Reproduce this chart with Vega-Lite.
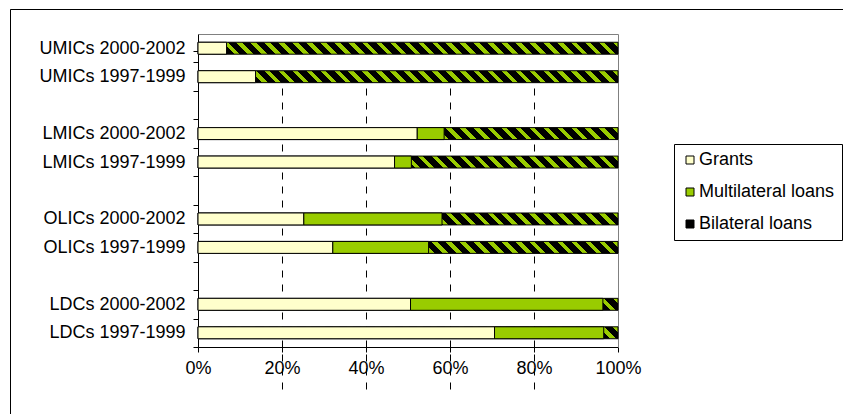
{
  "$schema": "https://vega.github.io/schema/vega-lite/v6.json",
  "width": 833,
  "height": 405,
  "autosize": {"type": "none"},
  "padding": {"left": 10, "top": 9, "right": 0, "bottom": 0},
  "background": "white",
  "view": {"stroke": "black", "strokeWidth": 1, "strokeDash": [833, 1238, 405, 10]},
  "data": {
    "values": [
      {"group": "UMICs 2000-2002", "type": "Grants", "value": 6.8},
      {"group": "UMICs 2000-2002", "type": "Bilateral loans", "value": 93.2},
      {"group": "UMICs 1997-1999", "type": "Grants", "value": 13.7},
      {"group": "UMICs 1997-1999", "type": "Bilateral loans", "value": 86.3},
      {"group": "LMICs 2000-2002", "type": "Grants", "value": 52.2},
      {"group": "LMICs 2000-2002", "type": "Multilateral loans", "value": 6.4},
      {"group": "LMICs 2000-2002", "type": "Bilateral loans", "value": 41.4},
      {"group": "LMICs 1997-1999", "type": "Grants", "value": 46.8},
      {"group": "LMICs 1997-1999", "type": "Multilateral loans", "value": 4.0},
      {"group": "LMICs 1997-1999", "type": "Bilateral loans", "value": 49.2},
      {"group": "OLICs 2000-2002", "type": "Grants", "value": 25.2},
      {"group": "OLICs 2000-2002", "type": "Multilateral loans", "value": 32.9},
      {"group": "OLICs 2000-2002", "type": "Bilateral loans", "value": 41.9},
      {"group": "OLICs 1997-1999", "type": "Grants", "value": 32.1},
      {"group": "OLICs 1997-1999", "type": "Multilateral loans", "value": 22.8},
      {"group": "OLICs 1997-1999", "type": "Bilateral loans", "value": 45.1},
      {"group": "LDCs 2000-2002", "type": "Grants", "value": 50.6},
      {"group": "LDCs 2000-2002", "type": "Multilateral loans", "value": 45.8},
      {"group": "LDCs 2000-2002", "type": "Bilateral loans", "value": 3.6},
      {"group": "LDCs 1997-1999", "type": "Grants", "value": 70.6},
      {"group": "LDCs 1997-1999", "type": "Multilateral loans", "value": 26.0},
      {"group": "LDCs 1997-1999", "type": "Bilateral loans", "value": 3.4}
    ]
  },
  "layer": [
    {
      "mark": {
        "type": "bar",
        "stroke": "black",
        "strokeWidth": 1,
        "fill": {
          "gradient": "linear",
          "x1": 0, "y1": 1, "x2": 1.02762, "y2": 0.97076,
          "stops": [
            {"offset": 0, "color": "#000000"}, {"offset": 0.01935, "color": "#000000"}, {"offset": 0.01935, "color": "#99CC00"}, {"offset": 0.03226, "color": "#99CC00"},
            {"offset": 0.03226, "color": "#000000"}, {"offset": 0.05161, "color": "#000000"}, {"offset": 0.05161, "color": "#99CC00"}, {"offset": 0.06452, "color": "#99CC00"},
            {"offset": 0.06452, "color": "#000000"}, {"offset": 0.08387, "color": "#000000"}, {"offset": 0.08387, "color": "#99CC00"}, {"offset": 0.09677, "color": "#99CC00"},
            {"offset": 0.09677, "color": "#000000"}, {"offset": 0.11613, "color": "#000000"}, {"offset": 0.11613, "color": "#99CC00"}, {"offset": 0.12903, "color": "#99CC00"},
            {"offset": 0.12903, "color": "#000000"}, {"offset": 0.14839, "color": "#000000"}, {"offset": 0.14839, "color": "#99CC00"}, {"offset": 0.16129, "color": "#99CC00"},
            {"offset": 0.16129, "color": "#000000"}, {"offset": 0.18065, "color": "#000000"}, {"offset": 0.18065, "color": "#99CC00"}, {"offset": 0.19355, "color": "#99CC00"},
            {"offset": 0.19355, "color": "#000000"}, {"offset": 0.2129, "color": "#000000"}, {"offset": 0.2129, "color": "#99CC00"}, {"offset": 0.22581, "color": "#99CC00"},
            {"offset": 0.22581, "color": "#000000"}, {"offset": 0.24516, "color": "#000000"}, {"offset": 0.24516, "color": "#99CC00"}, {"offset": 0.25806, "color": "#99CC00"},
            {"offset": 0.25806, "color": "#000000"}, {"offset": 0.27742, "color": "#000000"}, {"offset": 0.27742, "color": "#99CC00"}, {"offset": 0.29032, "color": "#99CC00"},
            {"offset": 0.29032, "color": "#000000"}, {"offset": 0.30968, "color": "#000000"}, {"offset": 0.30968, "color": "#99CC00"}, {"offset": 0.32258, "color": "#99CC00"},
            {"offset": 0.32258, "color": "#000000"}, {"offset": 0.34194, "color": "#000000"}, {"offset": 0.34194, "color": "#99CC00"}, {"offset": 0.35484, "color": "#99CC00"},
            {"offset": 0.35484, "color": "#000000"}, {"offset": 0.37419, "color": "#000000"}, {"offset": 0.37419, "color": "#99CC00"}, {"offset": 0.3871, "color": "#99CC00"},
            {"offset": 0.3871, "color": "#000000"}, {"offset": 0.40645, "color": "#000000"}, {"offset": 0.40645, "color": "#99CC00"}, {"offset": 0.41935, "color": "#99CC00"},
            {"offset": 0.41935, "color": "#000000"}, {"offset": 0.43871, "color": "#000000"}, {"offset": 0.43871, "color": "#99CC00"}, {"offset": 0.45161, "color": "#99CC00"},
            {"offset": 0.45161, "color": "#000000"}, {"offset": 0.47097, "color": "#000000"}, {"offset": 0.47097, "color": "#99CC00"}, {"offset": 0.48387, "color": "#99CC00"},
            {"offset": 0.48387, "color": "#000000"}, {"offset": 0.50323, "color": "#000000"}, {"offset": 0.50323, "color": "#99CC00"}, {"offset": 0.51613, "color": "#99CC00"},
            {"offset": 0.51613, "color": "#000000"}, {"offset": 0.53548, "color": "#000000"}, {"offset": 0.53548, "color": "#99CC00"}, {"offset": 0.54839, "color": "#99CC00"},
            {"offset": 0.54839, "color": "#000000"}, {"offset": 0.56774, "color": "#000000"}, {"offset": 0.56774, "color": "#99CC00"}, {"offset": 0.58065, "color": "#99CC00"},
            {"offset": 0.58065, "color": "#000000"}, {"offset": 0.6, "color": "#000000"}, {"offset": 0.6, "color": "#99CC00"}, {"offset": 0.6129, "color": "#99CC00"},
            {"offset": 0.6129, "color": "#000000"}, {"offset": 0.63226, "color": "#000000"}, {"offset": 0.63226, "color": "#99CC00"}, {"offset": 0.64516, "color": "#99CC00"},
            {"offset": 0.64516, "color": "#000000"}, {"offset": 0.66452, "color": "#000000"}, {"offset": 0.66452, "color": "#99CC00"}, {"offset": 0.67742, "color": "#99CC00"},
            {"offset": 0.67742, "color": "#000000"}, {"offset": 0.69677, "color": "#000000"}, {"offset": 0.69677, "color": "#99CC00"}, {"offset": 0.70968, "color": "#99CC00"},
            {"offset": 0.70968, "color": "#000000"}, {"offset": 0.72903, "color": "#000000"}, {"offset": 0.72903, "color": "#99CC00"}, {"offset": 0.74194, "color": "#99CC00"},
            {"offset": 0.74194, "color": "#000000"}, {"offset": 0.76129, "color": "#000000"}, {"offset": 0.76129, "color": "#99CC00"}, {"offset": 0.77419, "color": "#99CC00"},
            {"offset": 0.77419, "color": "#000000"}, {"offset": 0.79355, "color": "#000000"}, {"offset": 0.79355, "color": "#99CC00"}, {"offset": 0.80645, "color": "#99CC00"},
            {"offset": 0.80645, "color": "#000000"}, {"offset": 0.82581, "color": "#000000"}, {"offset": 0.82581, "color": "#99CC00"}, {"offset": 0.83871, "color": "#99CC00"},
            {"offset": 0.83871, "color": "#000000"}, {"offset": 0.85806, "color": "#000000"}, {"offset": 0.85806, "color": "#99CC00"}, {"offset": 0.87097, "color": "#99CC00"},
            {"offset": 0.87097, "color": "#000000"}, {"offset": 0.89032, "color": "#000000"}, {"offset": 0.89032, "color": "#99CC00"}, {"offset": 0.90323, "color": "#99CC00"},
            {"offset": 0.90323, "color": "#000000"}, {"offset": 0.92258, "color": "#000000"}, {"offset": 0.92258, "color": "#99CC00"}, {"offset": 0.93548, "color": "#99CC00"},
            {"offset": 0.93548, "color": "#000000"}, {"offset": 0.95484, "color": "#000000"}, {"offset": 0.95484, "color": "#99CC00"}, {"offset": 0.96774, "color": "#99CC00"},
            {"offset": 0.96774, "color": "#000000"}, {"offset": 0.9871, "color": "#000000"}, {"offset": 0.9871, "color": "#99CC00"}, {"offset": 1, "color": "#99CC00"}
          ]
        }
      },
      "encoding": {
        "y": {
          "field": "group",
          "type": "nominal",
          "scale": {
            "domain": ["UMICs 2000-2002", "UMICs 1997-1999", " ", "LMICs 2000-2002", "LMICs 1997-1999", "  ", "OLICs 2000-2002", "OLICs 1997-1999", "   ", "LDCs 2000-2002", "LDCs 1997-1999"],
            "range": [25, 338],
            "paddingInner": 0.58,
            "paddingOuter": 0.29
          },
          "axis": {
            "orient": "left",
            "offset": -188,
            "title": null,
            "domain": true,
            "ticks": true,
            "bandPosition": 1,
            "tickOffset": 8.25,
            "tickExtra": true,
            "tickSize": 5,
            "labelOffset": -8.25,
            "labelPadding": 8,
            "labelLimit": 300,
            "grid": false
          }
        },
        "x": {
          "aggregate": "sum",
          "field": "value",
          "type": "quantitative",
          "scale": {"domain": [0, 100], "range": [188, 608], "nice": false},
          "axis": {
            "orient": "bottom",
            "offset": -67,
            "title": null,
            "domain": true,
            "values": [0, 20, 40, 60, 80, 100],
            "labelExpr": "datum.value + '%'",
            "tickSize": 5,
            "labelPadding": 7,
            "labelFlush": false,
            "labelOverlap": false,
            "grid": true,
            "gridColor": "black",
            "gridDash": [7, 7],
            "gridOpacity": {"condition": {"test": "datum.value > 0 && datum.value < 100", "value": 1}, "value": 0}
          }
        }
      }
    },
    {
      "transform": [{"filter": "datum.type !== 'Bilateral loans'"}],
      "mark": {"type": "bar", "stroke": "black", "strokeWidth": 1},
      "encoding": {
        "y": {
          "field": "group",
          "type": "nominal",
          "axis": {"orient": "right", "offset": -225, "title": null, "ticks": false, "labels": false, "grid": false, "domain": true, "domainColor": "#808080"}
        },
        "x": {
          "field": "value",
          "type": "quantitative",
          "stack": "zero",
          "axis": {"orient": "top", "offset": -25, "title": null, "ticks": false, "labels": false, "grid": false, "domain": true, "domainColor": "#808080"}
        },
        "color": {
          "field": "type",
          "type": "nominal",
          "scale": {"domain": ["Grants", "Multilateral loans", "Bilateral loans"], "range": ["#FFFFCC", "#99CC00", "#000000"]},
          "legend": {
            "title": null,
            "orient": "none",
            "legendX": 664,
            "legendY": 135,
            "padding": 7,
            "strokeColor": "black",
            "fillColor": "white",
            "symbolType": "square",
            "symbolSize": 64,
            "symbolStrokeColor": "black",
            "symbolStrokeWidth": 1,
            "symbolOpacity": 1,
            "labelFontSize": 18,
            "labelOffset": 0,
            "labelColor": "black",
            "rowPadding": 14
          }
        },
        "order": {"field": "type", "sort": "ascending"}
      }
    }
  ],
  "resolve": {"axis": {"x": "independent", "y": "independent"}},
  "config": {
    "font": "Liberation Sans",
    "axis": {
      "labelFont": "Liberation Sans",
      "labelFontSize": 18,
      "labelColor": "black",
      "domainColor": "black",
      "domainWidth": 1,
      "tickColor": "black",
      "tickWidth": 1
    },
    "legend": {"labelFont": "Liberation Sans"}
  }
}
